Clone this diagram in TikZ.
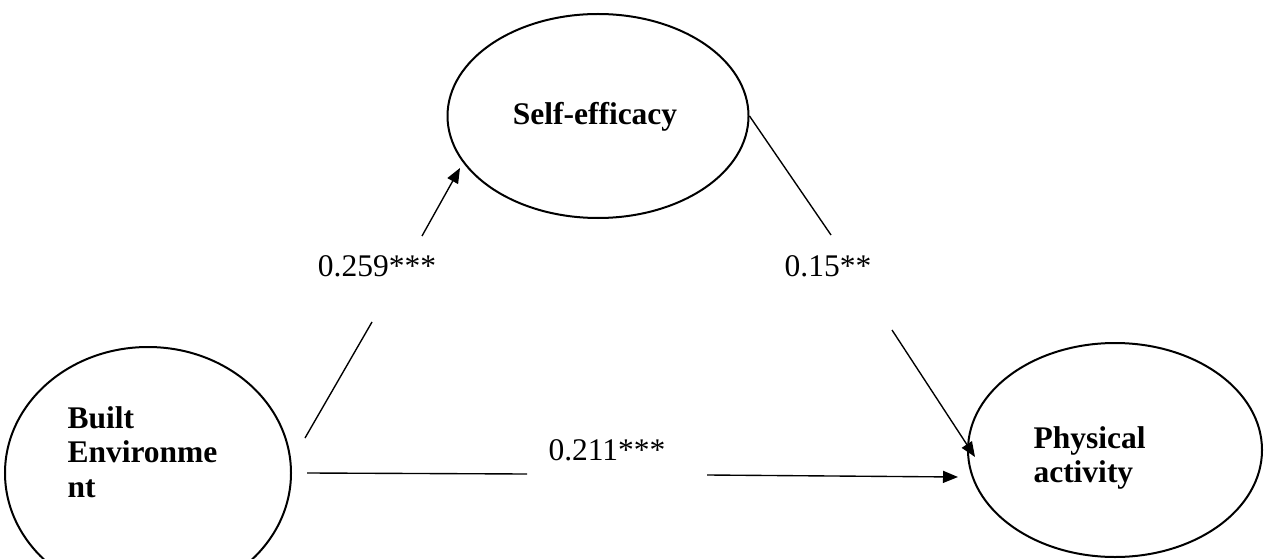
\documentclass[tikz,border=0pt]{standalone}
\usepackage{fontspec}
\setmainfont{Liberation Serif}
\usetikzlibrary{shapes.geometric,arrows.meta}
\begin{document}
\begin{tikzpicture}[x=0.4pt,y=-0.4pt,
  latent/.style={draw,ellipse,line width=0.8pt,inner sep=0pt},
  lbl/.style={font=\bfseries\fontsize{12.6}{13.8}\selectfont,align=left,inner sep=0pt},
  coef/.style={font=\fontsize{12.6}{13.8}\selectfont,inner sep=0pt},
  conn/.style={line width=0.55pt},
  arr/.style={line width=0.55pt,-{Triangle[length=6pt,width=4.8pt]}}]
\useasboundingbox (0,0) rectangle (1266,559);
% ellipses
\node[latent,minimum width=286*0.4pt,minimum height=252*0.4pt] (BE) at (148,473) {};
\node[latent,minimum width=301*0.4pt,minimum height=204*0.4pt] (SE) at (598,116) {};
\node[latent,minimum width=294*0.4pt,minimum height=214*0.4pt] (PA) at (1115,450) {};
% texts
\node[lbl,anchor=north west] (BEt) at (67,406) {Built\\Environme\\nt};
\node[lbl] (SEt) at (595,117) {Self-efficacy};
\node[lbl,anchor=north west] (PAt) at (1033,426) {Physical\\activity};
% coefficients
\node[coef] (c1) at (377,266) {0.259***};
\node[coef] (c2) at (828,266) {0.15**};
\node[coef] (c3) at (607,450) {0.211***};
% connector coordinates
\coordinate (a1s) at (305,438);
\coordinate (a1m) at (372,322);
\coordinate (a1n) at (422,236);
\coordinate (a1t) at (460,168);
\coordinate (a2m) at (831,235);
\coordinate (a2n) at (892,330);
\coordinate (a2t) at (975,457);
\coordinate (a3s) at (307,473);
\coordinate (a3m) at (527,474);
\coordinate (a3n) at (707,475);
\coordinate (a3t) at (958,477);
% connectors
\draw[conn] (a1s) -- (a1m);
\draw[arr] (a1n) -- (a1t);
\draw[conn] (SE.east) -- (a2m);
\draw[arr] (a2n) -- (a2t);
\draw[conn] (a3s) -- (a3m);
\draw[arr] (a3n) -- (a3t);
\end{tikzpicture}
\end{document}
